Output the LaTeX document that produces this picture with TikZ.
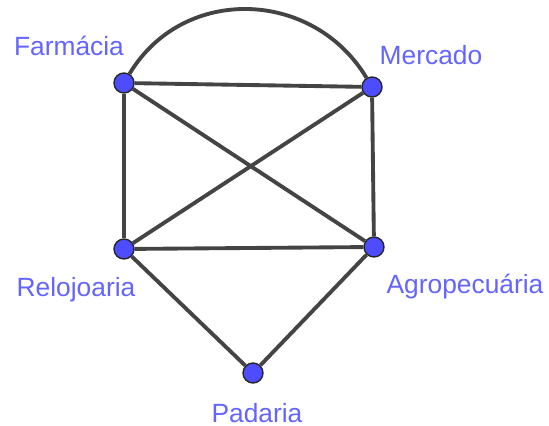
\documentclass[tikz,border=0pt]{standalone}
\usepackage{fontspec}
\setmainfont{Liberation Sans}
\usetikzlibrary{positioning}
\definecolor{ponto}{HTML}{4D4DFF}
\definecolor{rotulo}{HTML}{6464FF}
\definecolor{aresta}{HTML}{444444}

\begin{document}
\begin{tikzpicture}[x=0.02cm, y=0.02cm,
    vertice/.style={circle, fill=ponto, draw=black!85, line width=0.8pt, minimum size=0.4cm, inner sep=0pt},
    rot/.style={text=rotulo, font=\fontsize{15}{18}\selectfont, inner sep=0pt},
    aresta/.style={draw=aresta, line width=2.2pt}]
        \useasboundingbox (0,0) rectangle (549,426);
        % Vértices do grafo
        \node[vertice] (far) at (124,343) {};
        \node[vertice] (mer) at (372,339) {};
        \node[vertice] (rel) at (124,177) {};
        \node[vertice] (agr) at (374,179) {};
        \node[vertice] (pad) at (253,53) {};

        % Rótulos
        \node[rot] (farT) at (69,380) {Farmácia};
        \node[rot] (merT) at (431,371) {Mercado};
        \node[rot] (relT) at (76,136) {Relojoaria};
        \node[rot] (agrT) at (465,139) {Agropecuária};
        \node[rot] (padT) at (257,13) {Padaria};

        % Arestas
        \draw[aresta] (far) to[out=59, in=121, looseness=1.12] (mer);
        \draw[aresta] (far) -- (mer);
        \draw[aresta] (far) -- (rel);
        \draw[aresta] (far) -- (agr);
        \draw[aresta] (mer) -- (rel);
        \draw[aresta] (mer) -- (agr);
        \draw[aresta] (rel) -- (agr);
        \draw[aresta] (rel) -- (pad);
        \draw[aresta] (agr) -- (pad);
\end{tikzpicture}
\end{document}
